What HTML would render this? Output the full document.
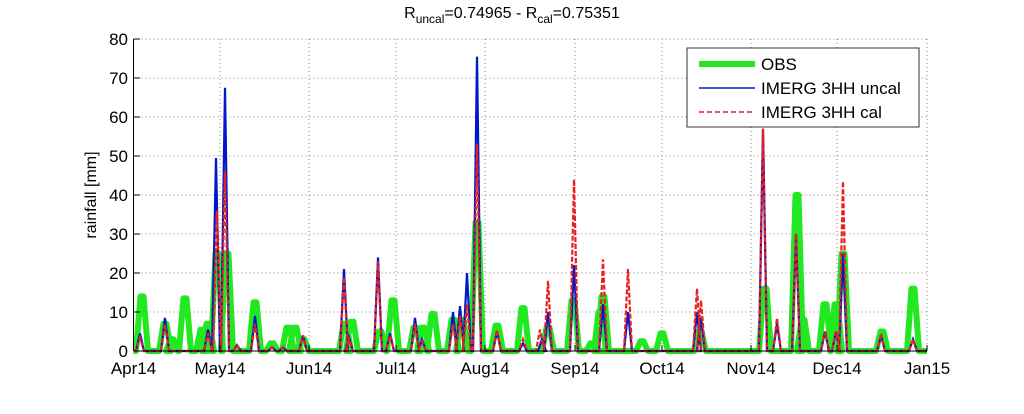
<!DOCTYPE html>
<html><head><meta charset="utf-8"><style>
body{margin:0;background:#fff;width:1024px;height:409px;overflow:hidden;font-family:"Liberation Sans",Arial,sans-serif}
</style></head><body>
<svg id="s" width="1024" height="409" xmlns="http://www.w3.org/2000/svg" font-family="Liberation Sans, Arial, sans-serif">
<text x="512" y="18" font-size="16" text-anchor="middle">R<tspan font-size="12" dy="5">uncal</tspan><tspan dy="-5">=0.74965 - R</tspan><tspan font-size="12" dy="5">cal</tspan><tspan dy="-5">=0.75351</tspan></text>
<g id="grid" stroke="#888" stroke-width="1" stroke-dasharray="1,3"></g>
<g id="series"></g>
<line x1="133.5" y1="39" x2="133.5" y2="351" stroke="#000"/>
<line x1="133.5" y1="351" x2="927" y2="351" stroke="#000"/>
<g id="ticks" font-size="17"></g>
<text transform="translate(96,195) rotate(-90)" font-size="16" text-anchor="middle">rainfall [mm]</text>
<rect x="687" y="48" width="232" height="79" fill="#fff" stroke="#333"/>
<line x1="699" y1="64" x2="755" y2="64" stroke="#22e822" stroke-width="6"/>
<line x1="699" y1="88" x2="755" y2="88" stroke="#0018c8" stroke-width="1.5"/>
<line x1="699" y1="112" x2="755" y2="112" stroke="#e82020" stroke-width="1.5" stroke-dasharray="5,3"/>
<text x="761" y="70" font-size="17">OBS</text>
<text x="761" y="94" font-size="17">IMERG 3HH uncal</text>
<text x="761" y="118" font-size="17">IMERG 3HH cal</text>
</svg>
<script>
var NS="http://www.w3.org/2000/svg";
function el(p,t,a){var e=document.createElementNS(NS,t);for(var k in a)e.setAttribute(k,a[k]);p.appendChild(e);return e;}
var g=document.getElementById('grid'),tk=document.getElementById('ticks'),se=document.getElementById('series');
function Y(v){return 351-v*3.9;}
for(var v=0;v<=80;v+=10){var y=Y(v);if(v>0)el(g,'line',{x1:133.5,x2:927,y1:y,y2:y});
el(tk,'line',{x1:133.5,x2:140,y1:y,y2:y,stroke:'#000'});
var t=el(tk,'text',{x:128,y:y+6,'text-anchor':'end'});t.textContent=v;}
var mx=[[133.5,'Apr14'],[220,'May14'],[309,'Jun14'],[396,'Jul14'],[485,'Aug14'],[575,'Sep14'],[662,'Oct14'],[751,'Nov14'],[837,'Dec14'],[927,'Jan15']];
mx.forEach(function(m){if(m[0]>134)el(g,'line',{x1:m[0],x2:m[0],y1:39,y2:351});
el(tk,'line',{x1:m[0],x2:m[0],y1:351,y2:345,stroke:'#000'});
var t=el(tk,'text',{x:m[0],y:374,'text-anchor':'middle'});t.textContent=m[1];});
function build(pk,w,flat){pk.sort(function(a,b){return a[0]-b[0]});var pts=[[133.5,0]];
pk.forEach(function(p){pts.push([p[0]-w,0]);if(flat){pts.push([p[0]-flat,p[1]]);pts.push([p[0]+flat,p[1]]);}else pts.push([p[0],p[1]]);pts.push([p[0]+w,0]);});
pts.push([927,0]);return pts.map(function(p){return p[0].toFixed(1)+','+Y(p[1]).toFixed(1)}).join(' ');}
var obs=[[142,14],[165,7],[172,3],[185,13.5],[202,5.5],[208,7],[217,25],[227,25],[255,12.5],[272,2],[288,6],[295,6],[303,3],[345,7],[352,7.5],[380,5],[393,13],[415,6],[423,6],[433,9.5],[453,8],[462,8],[477,33],[497,6.5],[523,11],[548,6],[573,13],[600,10],[592,2],[603,14],[642,2.5],[662,4.5],[700,5],[765,16],[797,40],[803,8],[825,12],[836,12],[843,25],[882,5],[913,16]];
var unc=[[140,4.5],[165,8.5],[208,5.5],[216,49.5],[225,67.5],[237,1.5],[255,9],[272,1],[283,1],[303,4],[344,21],[349,3.5],[378,24],[390,4.5],[415,8.5],[422,3],[453,10],[460,11.5],[467,20],[477,75.5],[497,5],[523,2],[542,3],[548,10],[574,22],[603,12],[628,10],[697,10],[701,8.5],[763,57],[777,7],[796,30],[825,5],[836,5],[843,25],[881,4],[913,3]];
var cal=[[140,3.5],[165,7],[208,4.5],[217,36],[225,46],[237,1.5],[255,7],[272,1],[283,1],[303,4],[344,19],[349,3],[378,23],[390,4],[415,7],[422,2.5],[453,7],[460,9],[467,12],[477,53],[497,5.5],[523,3],[540,5.5],[548,18],[574,44],[603,23.5],[628,21],[697,16],[701,13],[763,57],[777,8.5],[796,30],[825,5],[836,5],[843,43.5],[881,4.5],[913,3]];
el(se,'polyline',{points:build(obs,6,1.5),fill:'none',stroke:'#22e822','stroke-width':6,'stroke-linejoin':'round'});
el(se,'polyline',{points:build(unc,4),fill:'none',stroke:'#0018c8','stroke-width':2.2});
el(se,'polyline',{points:build(cal,4),fill:'none',stroke:'#e82020','stroke-width':2.2,'stroke-dasharray':'5,2'});
</script>
</body></html>
